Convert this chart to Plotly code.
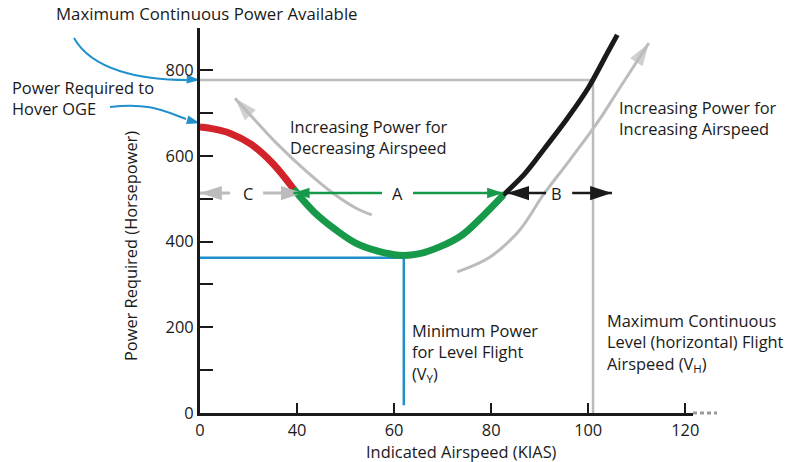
import plotly.graph_objects as go

# ---------------- data ----------------
# Power-required curve (KIAS, horsepower)
kias = [0, 6, 12.5, 21, 30, 38.5, 43.5, 48, 52, 56.5, 61, 65, 69.5, 74, 78, 82.5, 87, 91, 95.5, 100, 104, 106]
power = [667, 662, 652, 627, 582, 523, 469, 427, 397, 378, 368, 371, 388, 415, 456, 508, 559, 617, 684, 758, 841, 882]
red_end_kias = 38.5      # end of red (hover-side) segment
green_end_kias = 82.5    # end of green segment

max_power_available = 777
v_h = 101                # max continuous level flight airspeed
min_power = 362
v_y = 62

tick_kias = [0, 40, 60, 80, 100, 120]
tick_labels = ["0", "40", "60", "80", "100", "120"]
y_ticks = [0, 200, 400, 600, 800]

arrow_level = 513
arrow_c = [0, 41.2];      gap_c = [12.4, 26.0];  label_c = 19.8
arrow_a = [38.5, 82.5];   gap_a = [57.5, 63.9];  label_a = 60.8
arrow_b = [83.3, 104.9];  gap_b = [91.3, 96.7];  label_b = 93.4

decr_arrow_kias = [55.4, 52.3, 47.5, 42.0, 31.6, 22.7, 14.4]
decr_arrow_hp = [462, 477, 512, 563, 629, 683, 734]
incr_arrow_kias = [73.0, 79.8, 85.9, 90.7, 96.2, 102.0, 106.5, 112.5]
incr_arrow_hp = [329, 364, 427, 508, 590, 679, 758, 863]

hover_oge_pointer = 676

# ---------------- helpers ----------------
def xpos(k):
    """Axis position: 0-40 KIAS occupies one tick interval (broken scale)."""
    return k / 2.0 if k <= 40 else k - 20.0

X_MAX = 101.6
Y_MAX = 898
L, R, T, B = 200, 106, 28, 49
W, H = 799, 462
PW, PH = W - L - R, H - T - B

def px(xp):
    return (xp - L) / PW

def py(yp):
    return (H - B - yp) / PH

BLACK = "#1a1a1a"
RED = "#d2232a"
GREEN = "#17994a"
BLUE = "#2190cc"
GRAY = "#bcbcbc"
FONT = "Open Sans"
FS = 16.4

fig = go.Figure()

def line(xk, yv, color, width, shape="linear"):
    fig.add_trace(go.Scatter(
        x=[xpos(k) for k in xk], y=yv, mode="lines",
        line=dict(color=color, width=width, shape=shape, smoothing=1.0),
        hoverinfo="skip", showlegend=False))

def head(k, v, angle, color, size):
    fig.add_trace(go.Scatter(
        x=[xpos(k)], y=[v], mode="markers",
        marker=dict(symbol="arrow", size=size, angle=angle, color=color,
                    line=dict(width=0)),
        cliponaxis=False, hoverinfo="skip", showlegend=False))

# reference lines
line([0, v_h, v_h], [max_power_available, max_power_available, 0], GRAY, 2.5)
line([0, v_y, v_y], [min_power, min_power, 18], BLUE, 2.5)

# curved gray arrows
line(decr_arrow_kias, decr_arrow_hp, GRAY, 3, "spline")
line(incr_arrow_kias, incr_arrow_hp, GRAY, 3, "spline")
for ks, hs in ((decr_arrow_kias, decr_arrow_hp), (incr_arrow_kias, incr_arrow_hp)):
    fig.add_trace(go.Scatter(
        x=[xpos(k) for k in ks[-2:]], y=hs[-2:], mode="markers",
        marker=dict(symbol="arrow", size=[0, 24], angleref="previous",
                    color=GRAY, line=dict(width=0)),
        cliponaxis=False, hoverinfo="skip", showlegend=False))

# power required curve
i_red = kias.index(red_end_kias)
i_green = kias.index(green_end_kias)
line(kias, power, BLACK, 5, "spline")
line(kias[:i_red + 1], power[:i_red + 1], RED, 7, "spline")
line(kias[i_red:i_green + 1], power[i_red:i_green + 1], GREEN, 7, "spline")

# horizontal range arrows
def range_arrow(span, gap, color, width, size):
    line([span[0], gap[0]], [arrow_level] * 2, color, width)
    line([gap[1], span[1]], [arrow_level] * 2, color, width)
    head(span[0], arrow_level, 270, color, size)
    head(span[1], arrow_level, 90, color, size)

range_arrow(arrow_c, gap_c, GRAY, 3, 23)
range_arrow(arrow_a, gap_a, GREEN, 2.5, 17)
range_arrow(arrow_b, gap_b, BLACK, 2.5, 23)

# blue pointer arrowheads
head(0, max_power_available, 93, BLUE, 14)
head(0, hover_oge_pointer, 105, BLUE, 14)

shapes = [
    dict(type="path", xref="paper", yref="paper",
         path=f"M{px(74)},{py(38)} C{px(92)},{py(70)} {px(140)},{py(80)} {px(188)},{py(80)}",
         line=dict(color=BLUE, width=2)),
    dict(type="path", xref="paper", yref="paper",
         path=f"M{px(110)},{py(107)} C{px(150)},{py(102)} {px(166)},{py(112)} {px(186)},{py(119)}",
         line=dict(color=BLUE, width=2)),
    dict(type="line", xref="paper", yref="paper", x0=1.0, x1=px(717), y0=0, y1=0,
         line=dict(color="#9a9a9a", width=3, dash="4px,3px")),
]

def txt(text, x, y, xanchor="left", size=FS, yanchor="middle", textangle=0, align="left"):
    return dict(text=text, x=x, y=y, xref="paper", yref="paper", showarrow=False,
                xanchor=xanchor, yanchor=yanchor, align=align, textangle=textangle,
                font=dict(family=FONT, size=size, color=BLACK))

annotations = [
    txt("Maximum Continuous Power Available", px(54), py(13), size=16.8),
    txt("Power Required to<br>Hover OGE", px(10), py(97.5)),
    txt("Increasing Power for<br>Decreasing Airspeed", px(288), py(136.5)),
    txt("Increasing Power for<br>Increasing Airspeed", px(617), py(117.5)),
    txt("Minimum Power<br>for Level Flight<br>(V<sub>Y</sub>)", px(410), py(352)),
    txt("Maximum Continuous<br>Level (horizontal) Flight<br>Airspeed (V<sub>H</sub>)", px(605), py(342)),
    txt("Indicated Airspeed (KIAS)", px(461), py(451.5), xanchor="center"),
    txt("Power Required (Horsepower)", px(130), py(246), xanchor="center", textangle=-90),
]
for lbl, k in (("C", label_c), ("A", label_a), ("B", label_b)):
    annotations.append(dict(text=lbl, x=xpos(k), y=arrow_level, xref="x", yref="y",
                            showarrow=False, xanchor="center", yanchor="middle",
                            font=dict(family=FONT, size=FS, color=BLACK)))

fig.update_layout(
    width=W, height=H,
    margin=dict(l=L, r=R, t=T, b=B, autoexpand=False),
    paper_bgcolor="white", plot_bgcolor="white",
    showlegend=False,
    shapes=shapes, annotations=annotations,
    font=dict(family=FONT, size=FS, color=BLACK),
    xaxis=dict(range=[0, X_MAX], tickvals=[xpos(k) for k in tick_kias], ticktext=tick_labels,
               ticks="inside", ticklen=10, tickwidth=2, tickcolor=BLACK,
               showline=True, linewidth=3, linecolor=BLACK, showgrid=False, zeroline=False,
               tickfont=dict(family=FONT, size=FS, color=BLACK), automargin=False, fixedrange=True),
    yaxis=dict(range=[0, Y_MAX], tickvals=y_ticks,
               ticks="inside", ticklen=13, tickwidth=2, tickcolor=BLACK,
               minor=dict(dtick=100, ticks="inside", ticklen=13, tickwidth=2, tickcolor=BLACK),
               showline=True, linewidth=3, linecolor=BLACK, showgrid=False, zeroline=False,
               tickfont=dict(family=FONT, size=FS, color=BLACK), automargin=False, fixedrange=True),
)

fig.write_html("out.html", config={"displayModeBar": False},
               post_script="document.body.style.margin='0px';")
